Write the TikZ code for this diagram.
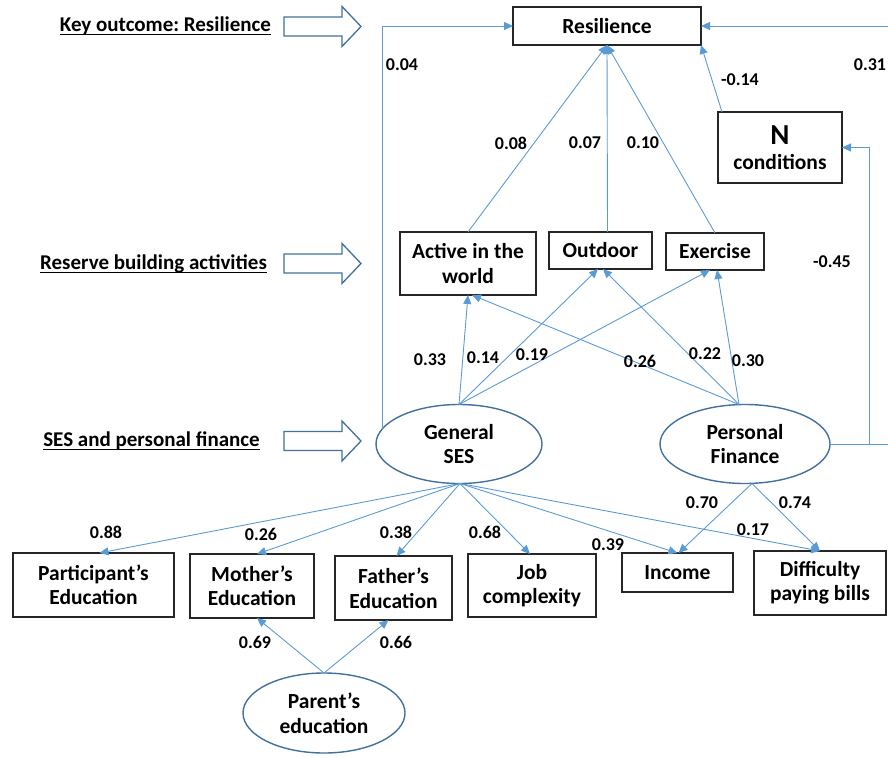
\documentclass[tikz,border=0pt]{standalone}
\usepackage{fontspec}
\setmainfont{Carlito}
\usetikzlibrary{arrows.meta,shapes.geometric,calc}
\definecolor{connc}{HTML}{5B9BD5}
\definecolor{ellc}{HTML}{41719C}
\definecolor{boxc}{HTML}{262626}
\newcommand\myunderl[1]{\setbox0\hbox{#1}\rlap{\rule[-3.5pt]{\wd0}{1.5pt}}\box0}
\frenchspacing
\begin{document}
\begin{tikzpicture}[x=1pt,y=-1pt,
  every node/.style={inner sep=0pt,outer sep=0pt},
  boxn/.style={draw=boxc,line width=1.3pt,rectangle,align=center,
    font=\bfseries\fontsize{21.5}{24.5}\selectfont},
  elln/.style={draw=ellc,line width=1.4pt,ellipse,align=center,
    font=\bfseries\fontsize{21.5}{24.5}\selectfont},
  lbl/.style={font=\bfseries\fontsize{18}{20}\selectfont},
  headl/.style={font=\bfseries\fontsize{21}{24}\selectfont},
  conn/.style={draw=connc,line width=0.9pt,-{Triangle[length=9pt,width=8pt]}},
  blk/.style={draw=ellc,line width=1.3pt,fill=white,line join=miter}
]
\useasboundingbox (0,0) rectangle (888,757);
\clip (0,0) rectangle (888,757);

% section headings
\node[headl] (h1) at (165.5,26) {\myunderl{Key outcome: Resilience}};
\node[headl] (h2) at (153.5,264) {\myunderl{Reserve building activities}};
\node[headl] (h3) at (151.5,441) {\myunderl{SES and personal finance}};

% block arrows
\foreach \yc in {26.5,263.5,441}{
  \draw[blk] (284,\yc-9.5) -- (342,\yc-9.5) -- (342,\yc-20) -- (361,\yc)
    -- (342,\yc+20) -- (342,\yc+9.5) -- (284,\yc+9.5) -- cycle;
}

% nodes
\node[boxn,minimum width=188pt,minimum height=38pt] (res) at (607,26) {Resilience};
\node[boxn,minimum width=124pt,minimum height=71pt] (ncond) at (780,147.5)
  {{\fontsize{29}{29}\selectfont N}\\[1pt]conditions};
\node[boxn,minimum width=136pt,minimum height=63pt] (active) at (468,263.5) {Active in the\\world};
\node[boxn,minimum width=103pt,minimum height=37pt] (outdoor) at (600.5,250.5) {Outdoor};
\node[boxn,minimum width=98pt,minimum height=37pt] (exercise) at (715,251.5) {Exercise};
\node[elln,minimum width=166pt,minimum height=79pt] (gses) at (459,444) {General\\SES};
\node[elln,minimum width=170pt,minimum height=79pt] (pf) at (745,444) {Personal\\Finance};
\node[boxn,minimum width=161pt,minimum height=64pt] (part) at (93.5,585) {Participant’s\\Education};
\node[boxn,minimum width=124pt,minimum height=64pt] (mother) at (252,586) {Mother’s\\Education};
\node[boxn,minimum width=117pt,minimum height=64pt] (father) at (393.5,588) {Father’s\\Education};
\node[boxn,minimum width=128pt,minimum height=63pt] (job) at (532,585.5) {Job\\complexity};
\node[boxn,minimum width=111pt,minimum height=39pt] (income) at (677.5,572.5) {Income};
\node[boxn,minimum width=132pt,minimum height=64pt] (diff) at (820,583) {Difficulty\\paying bills};
\node[elln,minimum width=162pt,minimum height=80pt] (parent) at (324,713) {Parent’s\\education};

\coordinate (rc) at (869,0);
\coordinate (rfar) at (905,0);

% connectors to resilience
\draw[conn] (active.north) -- (res.south);
\draw[conn] ($(outdoor.north)+(7,0)$) -- (res.south);
\draw[conn] (exercise.north) -- (res.south);
\draw[conn] ($(ncond.north west)+(4,0)$) -- (res.south east);
\draw[conn] (gses.169) |- (res.west);
\draw[conn] (pf.east) -- (pf.east -| rfar) |- (res.east);
\draw[conn] (pf.east) -- (pf.east -| rc) |- (ncond.east);

% SES / finance to activities
\draw[conn] (gses.north) -- (active.south);
\draw[conn] (gses.north) -- ($(outdoor.south)+(-2.5,0)$);
\draw[conn] (gses.north) -- ($(exercise.south)+(-5,0)$);
\draw[conn] ($(pf.north)+(-6,0)$) -- ($(active.south)+(4,0)$);
\draw[conn] ($(pf.north)+(-6,0)$) -- ($(outdoor.south)+(2.5,0)$);
\draw[conn] ($(pf.north)+(-6,0)$) -- ($(exercise.south)+(2,0)$);

% indicators
\draw[conn] ($(gses.south)+(1,0)$) -- ($(part.north)+(6,0)$);
\draw[conn] ($(gses.south)+(1,0)$) -- ($(mother.north)+(5,0)$);
\draw[conn] ($(gses.south)+(1,0)$) -- ($(father.north)+(3,0)$);
\draw[conn] ($(gses.south)+(1,0)$) -- ($(job.north)+(-2,0)$);
\draw[conn] ($(gses.south)+(1,0)$) -- (income.north);
\draw[conn] ($(gses.south)+(1,0)$) -- (diff.north);
\draw[conn] ($(pf.south)+(7,0)$) -- ($(income.north)+(1,0)$);
\draw[conn] ($(pf.south)+(7,0)$) -- (diff.north);
\draw[conn] (parent.north) -- ($(mother.south)+(5,0)$);
\draw[conn] (parent.north) -- ($(father.south)+(-5,0)$);

% coefficient labels
\node[lbl] (l04) at (402,65) {0.04};
\node[lbl] (l31) at (870,65) {0.31};
\node[lbl] (l14n) at (740,80) {-0.14};
\node[lbl] (l08) at (511,143) {0.08};
\node[lbl] (l07) at (585,143) {0.07};
\node[lbl] (l10) at (643,143) {0.10};
\node[lbl] (l45) at (832,262) {-0.45};
\node[lbl] (l33) at (430,360) {0.33};
\node[lbl] (l14) at (483,358) {0.14};
\node[lbl] (l19) at (532,355) {0.19};
\node[lbl] (l26a) at (640,361) {0.26};
\node[lbl] (l22) at (705,354) {0.22};
\node[lbl] (l30) at (748,361) {0.30};
\node[lbl] (l70) at (702,503) {0.70};
\node[lbl] (l74) at (795,503) {0.74};
\node[lbl] (l88) at (106,532) {0.88};
\node[lbl] (l26b) at (261,534) {0.26};
\node[lbl] (l38) at (396,532) {0.38};
\node[lbl] (l68) at (485,532) {0.68};
\node[lbl] (l39) at (608,545) {0.39};
\node[lbl] (l17) at (753,530) {0.17};
\node[lbl] (l69) at (255,642) {0.69};
\node[lbl] (l66) at (396,642) {0.66};
\end{tikzpicture}
\end{document}
